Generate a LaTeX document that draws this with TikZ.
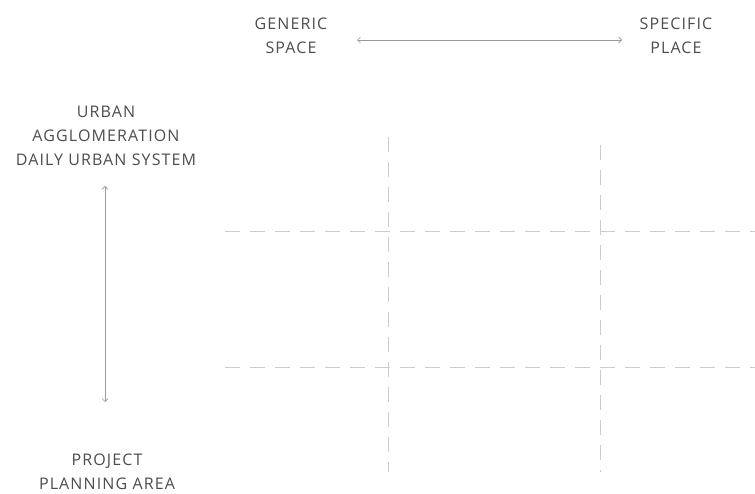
\documentclass[tikz,border=0pt]{standalone}
\usepackage{fontspec}
\setmainfont[LetterSpace=7]{Open Sans}
\usetikzlibrary{arrows.meta}
\definecolor{txt}{gray}{0.3}
\definecolor{ln}{gray}{0.6}
\definecolor{dl}{gray}{0.8}
\tikzset{
  lbl/.style={text=txt, align=center, font=\fontsize{16}{24}\selectfont, inner sep=0pt},
  arr/.style={draw=ln, line width=0.6pt, {Straight Barb[length=3pt,width=6pt]}-{Straight Barb[length=3pt,width=6pt]}},
  grid/.style={draw=dl, line width=1pt, dash pattern=on 15pt off 10pt}
}
\begin{document}
\begin{tikzpicture}[x=1pt,y=-1pt]
\useasboundingbox (0,0) rectangle (755,494);
\node[lbl] (gen) at (291,36) {GENERIC\\SPACE};
\node[lbl] (spec) at (676,36) {SPECIFIC\\PLACE};
\node[lbl] (urb) at (106,136) {URBAN\\AGGLOMERATION\\DAILY URBAN SYSTEM};
\node[lbl] (proj) at (107,472) {PROJECT\\PLANNING AREA};
\coordinate (h1) at (357,40);
\coordinate (h2) at (622,40);
\coordinate (v1) at (105,186);
\coordinate (v2) at (105,402);
\draw[arr] (h1) -- (h2);
\draw[arr] (v1) -- (v2);
\coordinate (a1) at (388,137);
\coordinate (a2) at (388,472);
\coordinate (b1) at (600,145);
\coordinate (b2) at (600,472);
\coordinate (c1) at (225,232);
\coordinate (c2) at (755,232);
\coordinate (d1) at (225,367);
\coordinate (d2) at (755,367);
\draw[grid] (a1) -- (a2);
\draw[grid] (b1) -- (b2);
\draw[grid] (c1) -- (c2);
\draw[grid] (d1) -- (d2);
\end{tikzpicture}
\end{document}
